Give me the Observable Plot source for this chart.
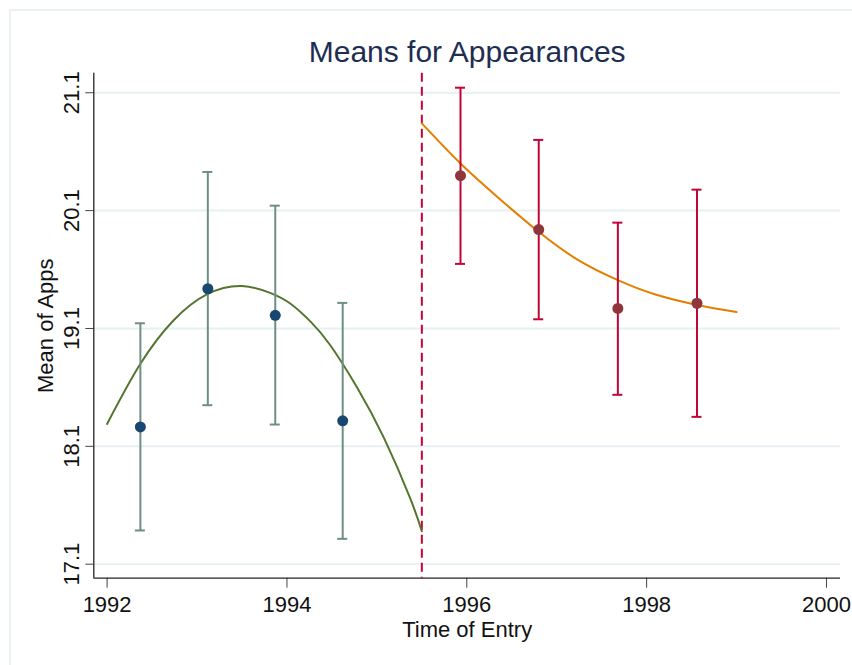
<!DOCTYPE html>
<html>
<head>
<meta charset="utf-8">
<script src="https://cdn.jsdelivr.net/npm/d3@7"></script>
<script src="https://cdn.jsdelivr.net/npm/@observablehq/plot@0.6"></script>
<style>
  html, body { margin: 0; padding: 0; background: #fff; }
  #wrap { position: relative; width: 852px; height: 665px; overflow: hidden; }
  #edge { position: absolute; left: 9px; top: 9px; width: 900px; height: 700px;
          border-left: 2px solid #eaf1f3; border-top: 2px solid #eaf1f3; pointer-events: none; }
</style>
</head>
<body>
<div id="wrap"><div id="edge"></div></div>
<script>
// Cohort means of appearances with 95% intervals, before and after the 1995.5 cutoff
const preYear  = [1992.37, 1993.12, 1993.87, 1994.62];
const preMean  = [18.265, 19.437, 19.212, 18.316];
const preLow   = [17.386, 18.449, 18.285, 17.315];
const preHigh  = [19.144, 20.428, 20.142, 19.317];

const postYear = [1995.93, 1996.80, 1997.68, 1998.56];
const postMean = [20.396, 19.939, 19.270, 19.314];
const postLow  = [19.648, 19.178, 18.537, 18.350];
const postHigh = [21.143, 20.700, 19.998, 20.278];

// Quadratic fit lines, sampled along each side
const preFitYear  = [1992.0, 1992.37, 1992.74, 1993.11, 1993.5, 1993.82, 1994.04, 1994.26, 1994.48, 1994.78, 1995.08, 1995.37, 1995.5];
const preFitValue = [18.29, 18.80, 19.17, 19.39, 19.46, 19.40, 19.31, 19.16, 18.96, 18.60, 18.17, 17.66, 17.38];
const postFitYear  = [1995.5, 1995.93, 1996.35, 1996.8, 1997.24, 1997.68, 1998.09, 1998.56, 1999.0];
const postFitValue = [20.84, 20.50, 20.21, 19.92, 19.68, 19.51, 19.39, 19.30, 19.24];

const cutoff = [1995.5];
const xTicks = [1992, 1994, 1996, 1998, 2000];
const yTicks = [17.1, 18.1, 19.1, 20.1, 21.1];
const xDomain = [1991.852, 2000.156];
const yDomain = [16.981, 21.266];

const navy = "#1a476f", maroon = "#90353b", forest = "#55752f",
      dkorange = "#e37e00", teal = "#6e8e84", cranberry = "#c10534",
      grid = "#e6eff1", titleColor = "#1e2d52", ink = "#111";

const pre  = preYear.map((x, i) => ({x, mean: preMean[i], lo: preLow[i], hi: preHigh[i]}));
const post = postYear.map((x, i) => ({x, mean: postMean[i], lo: postLow[i], hi: postHigh[i]}));
const preFit  = preFitYear.map((x, i) => ({x, y: preFitValue[i]}));
const postFit = postFitYear.map((x, i) => ({x, y: postFitValue[i]}));

function errorBars(data, color) {
  return [
    Plot.ruleX(data, {x: "x", y1: "lo", y2: "hi", stroke: color, strokeWidth: 2}),
    Plot.ruleY(data, {y: "hi", x1: "x", x2: "x", insetLeft: -5, insetRight: -5, stroke: color, strokeWidth: 2}),
    Plot.ruleY(data, {y: "lo", x1: "x", x2: "x", insetLeft: -5, insetRight: -5, stroke: color, strokeWidth: 2})
  ];
}

const chart = Plot.plot({
  width: 852,
  height: 665,
  marginLeft: 93.3,
  marginRight: 12,
  marginTop: 72.7,
  marginBottom: 87.3,
  x: {domain: xDomain},
  y: {domain: yDomain},
  style: {fontFamily: "'Liberation Sans', Arial, Helvetica, sans-serif", background: "transparent", overflow: "visible"},
  marks: [
    Plot.gridY({ticks: yTicks, stroke: grid, strokeOpacity: 1, strokeWidth: 2}),
    Plot.axisY({ticks: yTicks, tickSize: 8, fill: "none", stroke: "#444", label: null}),
    Plot.axisX({ticks: xTicks, tickSize: 10, fill: "none", stroke: "#444", label: null}),
    Plot.ruleX([xDomain[0]], {stroke: "#222", strokeWidth: 1.3}),
    Plot.ruleY([yDomain[0]], {stroke: "#222", strokeWidth: 1.3}),

    // tick labels
    Plot.text(yTicks, {y: d => d, text: d => d.toFixed(1), frameAnchor: "left", rotate: -90,
      dx: -15, lineAnchor: "bottom", textAnchor: "middle", fontSize: 22, fill: ink}),
    Plot.text(xTicks, {x: d => d, text: d => String(d), frameAnchor: "bottom",
      dy: 34, lineAnchor: "bottom", fontSize: 22, fill: ink}),

    // cutoff
    Plot.ruleX(cutoff, {stroke: cranberry, strokeWidth: 2, strokeDasharray: "9,5"}),

    // fitted curves
    Plot.line(preFit, {x: "x", y: "y", stroke: forest, strokeWidth: 2, curve: "natural"}),
    Plot.line(postFit, {x: "x", y: "y", stroke: dkorange, strokeWidth: 2, curve: "natural"}),

    // intervals and means
    ...errorBars(pre, teal),
    ...errorBars(post, cranberry),
    Plot.dot(pre, {x: "x", y: "mean", r: 5.5, fill: navy, stroke: "none"}),
    Plot.dot(post, {x: "x", y: "mean", r: 5.5, fill: maroon, stroke: "none"}),

    // titles
    Plot.text(["Means for Appearances"], {frameAnchor: "top", dy: -11, lineAnchor: "bottom",
      fontSize: 30, fill: titleColor}),
    Plot.text(["Time of Entry"], {frameAnchor: "bottom", dy: 59, lineAnchor: "bottom",
      fontSize: 22, fill: ink}),
    Plot.text(["Mean of Apps"], {frameAnchor: "left", rotate: -90, dx: -40.5, lineAnchor: "bottom",
      textAnchor: "middle", fontSize: 22, fill: ink})
  ]
});

document.getElementById("wrap").prepend(chart);
</script>
</body>
</html>
